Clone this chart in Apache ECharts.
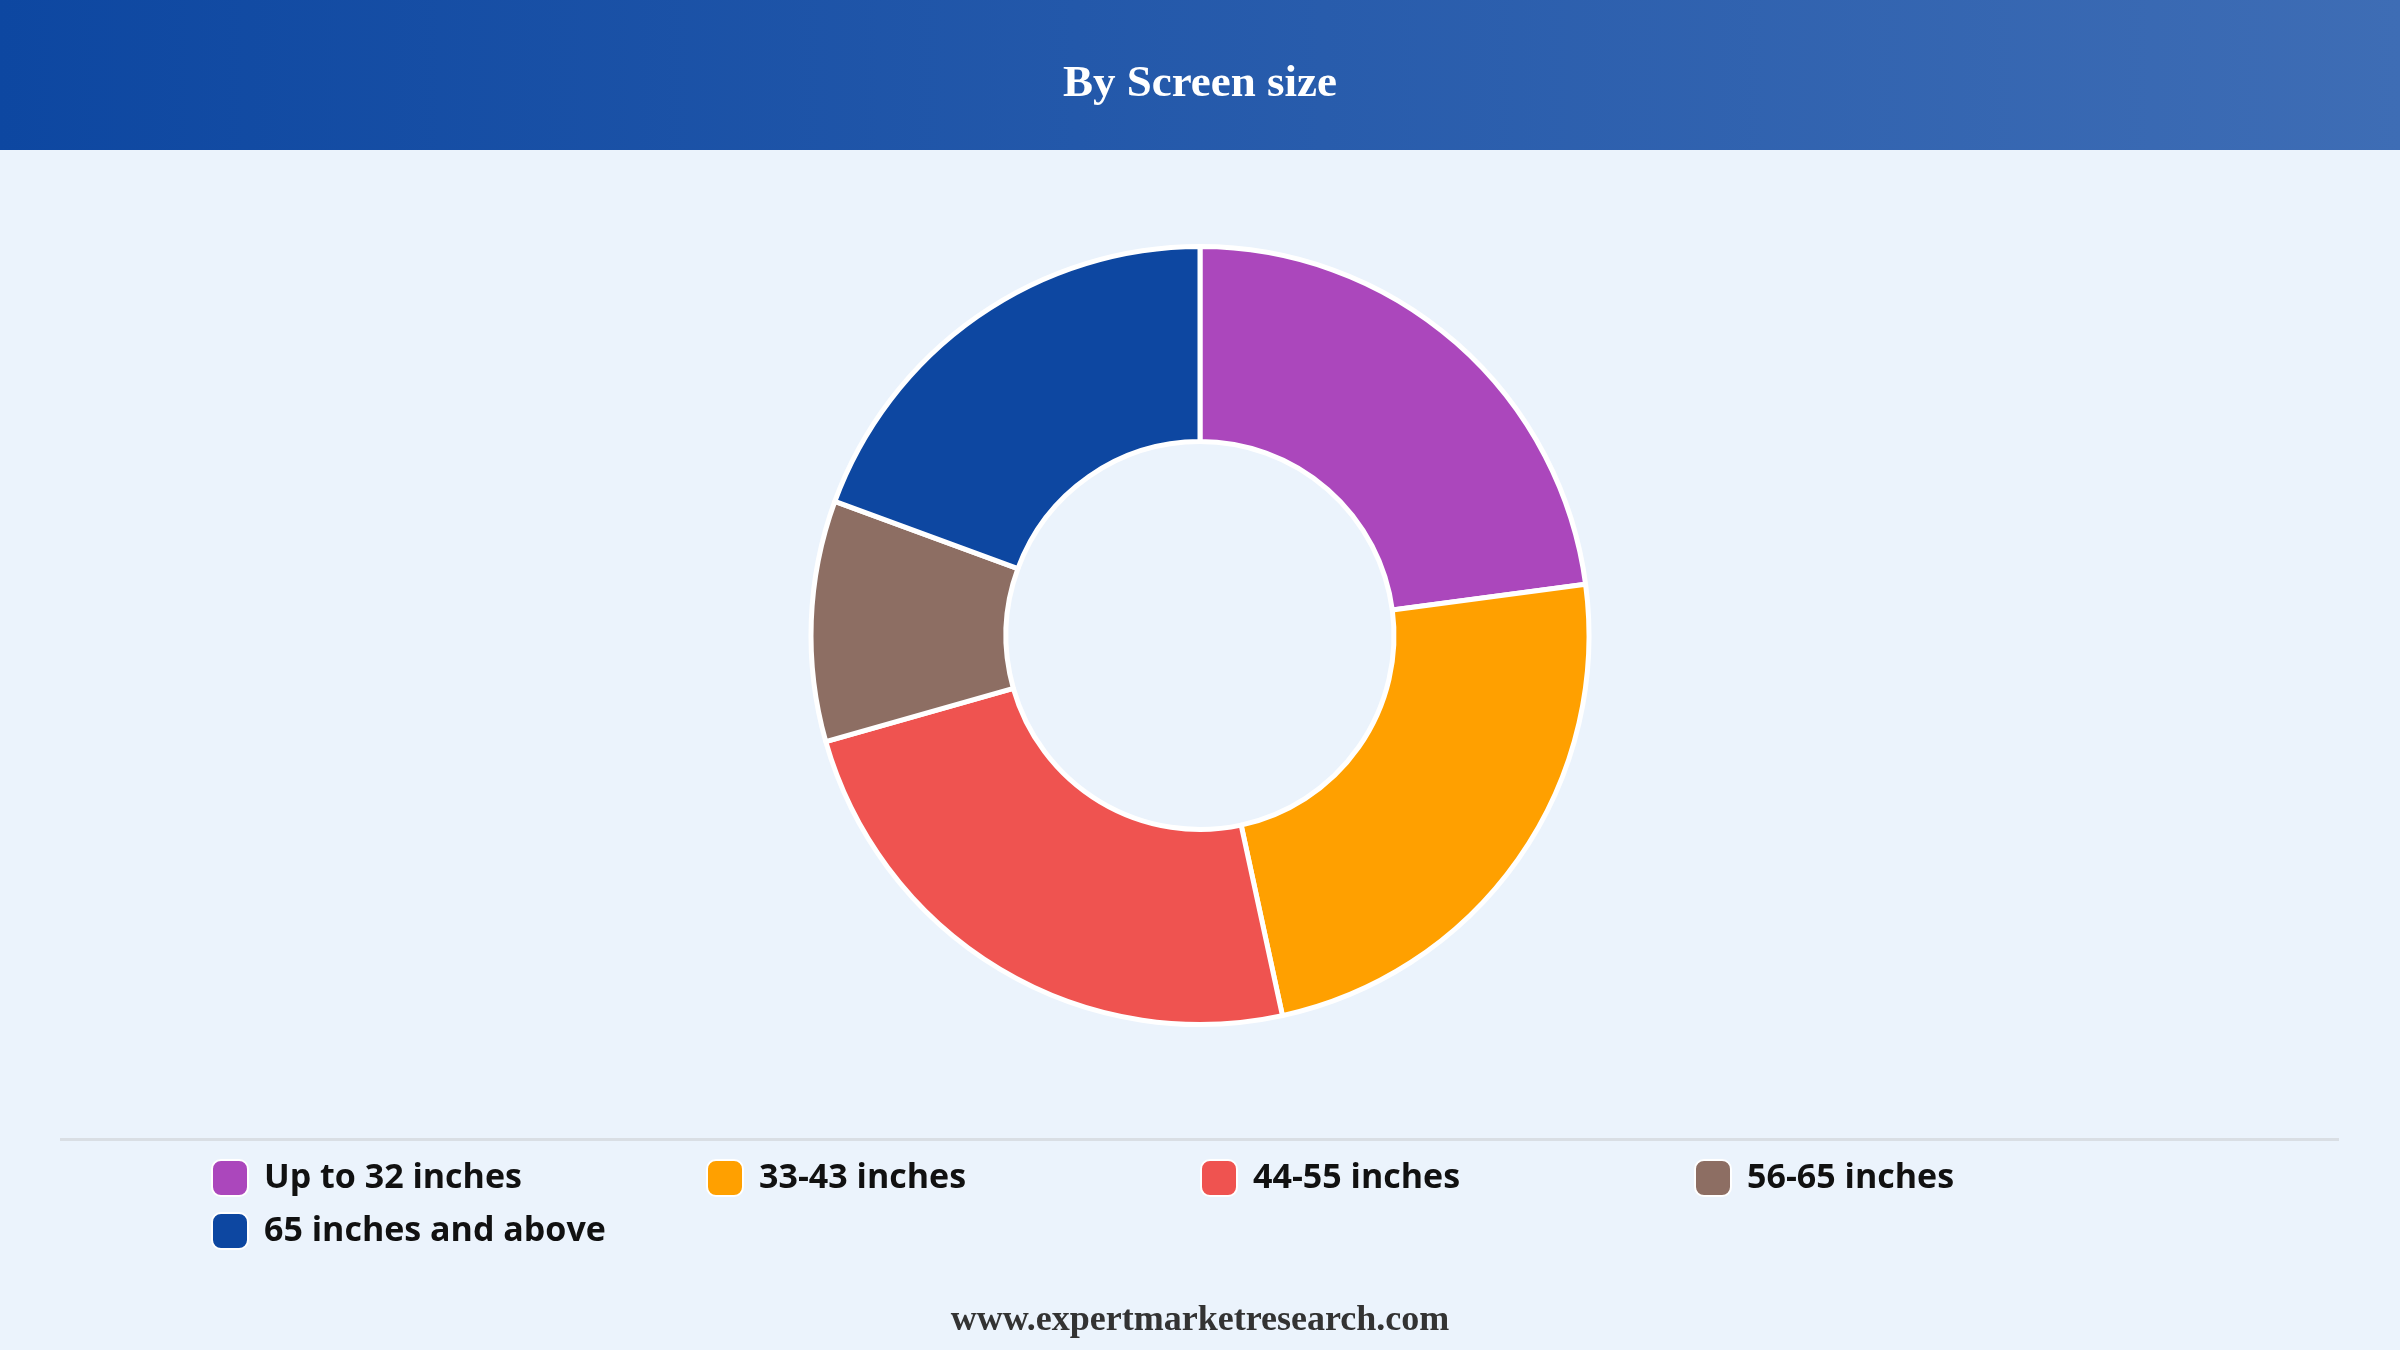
<!DOCTYPE html>
<html>
<head>
<meta charset="utf-8">
<script src="https://cdn.jsdelivr.net/npm/echarts@6/dist/echarts.min.js"></script>
<style>
html,body{margin:0;padding:0;background:#EBF3FC;}
#main{width:2400px;height:1350px;}
</style>
</head>
<body>
<div id="main"></div>
<script>
const titleText = 'By Screen size';
const footerText = 'www.expertmarketresearch.com';
const categories = ['Up to 32 inches', '33-43 inches', '44-55 inches', '56-65 inches', '65 inches and above'];
const values = [22.9, 23.7, 24.0, 10.0, 19.4];
const colors = ['#AB47BC', '#FFA000', '#EF5350', '#8D6E63', '#0D47A1'];

const legendPos = [
  {left: 211, top: 1159},
  {left: 706, top: 1159},
  {left: 1200, top: 1159},
  {left: 1694, top: 1159},
  {left: 211, top: 1212}
];

const chart = echarts.init(document.getElementById('main'), null, {renderer: 'canvas'});
const legends = categories.map((name, i) => ({
  data: [name],
  left: legendPos[i].left,
  top: legendPos[i].top,
  padding: 0,
  orient: 'horizontal',
  icon: 'roundRect',
  itemWidth: 36,
  itemHeight: 36,
  selectedMode: false,
  textStyle: {
    fontFamily: 'Open Sans',
    fontWeight: 'bold',
    fontSize: 34,
    color: '#111111',
    padding: [2, 0, 0, 11]
  }
}));

chart.setOption({
  backgroundColor: '#EBF3FC',
  animation: false,
  color: colors,
  graphic: [
    {
      type: 'rect', z: -1,
      shape: {x: 0, y: 0, width: 2400, height: 150},
      style: {
        fill: new echarts.graphic.LinearGradient(0, 0, 1, 0, [
          {offset: 0, color: '#0D47A1'},
          {offset: 1, color: '#3E6DB5'}
        ])
      }
    },
    {
      type: 'rect',
      shape: {x: 60, y: 1138, width: 2279, height: 3},
      style: {fill: '#D9DEE4'}
    },
    {
      type: 'text',
      x: 1200, y: 1321,
      style: {
        text: footerText,
        fill: '#333333',
        font: 'bold 36px "Liberation Serif", "Times New Roman", serif',
        textAlign: 'center',
        textVerticalAlign: 'middle'
      }
    }
  ],
  title: {
    text: titleText,
    left: 'center',
    top: 79,
    textVerticalAlign: 'middle',
    textStyle: {
      color: '#FFFFFF',
      fontFamily: 'Liberation Serif',
      fontWeight: 'bold',
      fontSize: 45
    }
  },
  legend: legends,
  series: [{
    type: 'pie',
    center: [1200, 635.5],
    radius: [194, 389],
    startAngle: 90,
    clockwise: true,
    avoidLabelOverlap: false,
    label: {show: false},
    labelLine: {show: false},
    itemStyle: {borderColor: '#FFFFFF', borderWidth: 5},
    emphasis: {disabled: true},
    data: categories.map((name, i) => ({name: name, value: values[i]}))
  }]
});
</script>
</body>
</html>
